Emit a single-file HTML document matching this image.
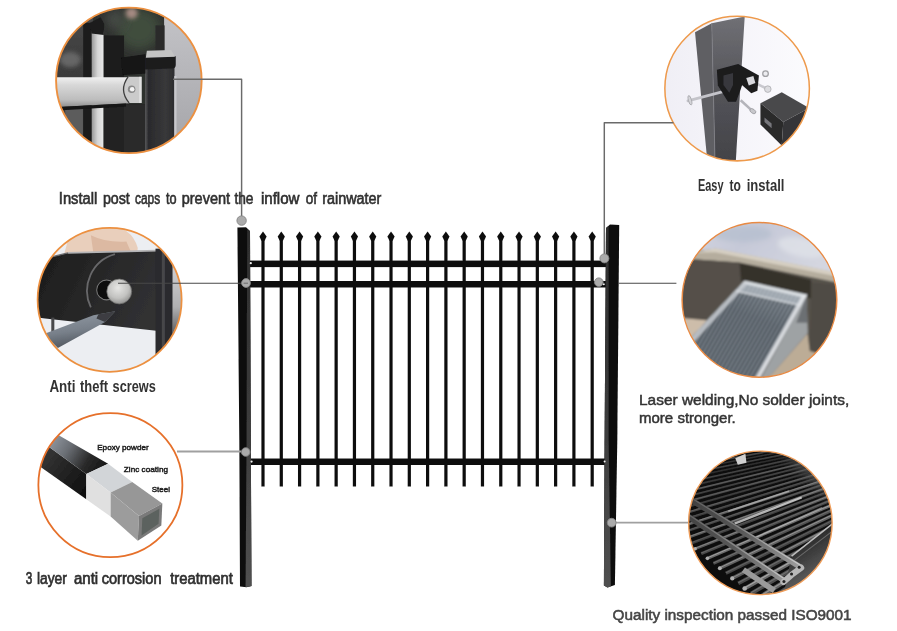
<!DOCTYPE html>
<html><head><meta charset="utf-8"><title>Fence features</title>
<style>
html,body{margin:0;padding:0;background:#fff;}
body{width:897px;height:631px;overflow:hidden;font-family:"Liberation Sans",sans-serif;}
svg{display:block}
text{font-family:"Liberation Sans",sans-serif;}
</style></head><body>
<svg width="897" height="631" viewBox="0 0 897 631">
<defs>
<linearGradient id="gpl" x1="0" y1="0" x2="0" y2="1"><stop offset="0" stop-color="#2e2e2e"/><stop offset="0.55" stop-color="#3c3c3c"/><stop offset="1" stop-color="#505050"/></linearGradient>
<filter id="soft" x="-5%" y="-5%" width="110%" height="110%"><feGaussianBlur stdDeviation="0.45"/></filter>
<filter id="b1" x="-10%" y="-10%" width="120%" height="120%"><feGaussianBlur stdDeviation="1"/></filter>
<filter id="b2" x="-10%" y="-10%" width="120%" height="120%"><feGaussianBlur stdDeviation="2"/></filter>
<filter id="b4" x="-20%" y="-20%" width="140%" height="140%"><feGaussianBlur stdDeviation="4"/></filter>
<filter id="pb" x="-5%" y="-5%" width="110%" height="110%"><feGaussianBlur stdDeviation="3"/></filter>
<filter id="b8" x="-50%" y="-50%" width="200%" height="200%"><feGaussianBlur stdDeviation="8"/></filter>
<filter id="b20" x="-50%" y="-50%" width="200%" height="200%"><feGaussianBlur stdDeviation="22"/></filter>
<filter id="tb" x="-5%" y="-20%" width="110%" height="140%"><feGaussianBlur stdDeviation="0.35"/></filter>
</defs>
<rect width="897" height="631" fill="#ffffff"/>
<defs>
<linearGradient id="g1bar" x1="0" y1="0" x2="0" y2="1"><stop offset="0" stop-color="#f0f0f0"/><stop offset="0.25" stop-color="#d8d8d8"/><stop offset="0.75" stop-color="#bcbcbc"/><stop offset="1" stop-color="#8c8c8c"/></linearGradient>
<linearGradient id="g1v" x1="0" y1="0" x2="1" y2="0"><stop offset="0" stop-color="#9a9a9a"/><stop offset="0.5" stop-color="#d6d6d6"/><stop offset="1" stop-color="#e8e8e8"/></linearGradient>
<linearGradient id="g1post" x1="0" y1="0" x2="1" y2="0"><stop offset="0" stop-color="#5a5a5c"/><stop offset="0.12" stop-color="#2a2a2c"/><stop offset="0.7" stop-color="#38383a"/><stop offset="1" stop-color="#2c2c2e"/></linearGradient>
<linearGradient id="g1l" x1="0" y1="0" x2="0" y2="1"><stop offset="0" stop-color="#4c4c4c"/><stop offset="1" stop-color="#3a3a3a"/></linearGradient>
<linearGradient id="g1r" x1="0" y1="0" x2="0" y2="1"><stop offset="0" stop-color="#c6c6ca"/><stop offset="1" stop-color="#a2a2a6"/></linearGradient>
<clipPath id="c1"><circle cx="311" cy="317" r="287"/></clipPath>
</defs>
<!-- circle 1 -->
<g transform="translate(50,0) scale(0.25355)">
<g clip-path="url(#c1)"><g filter="url(#pb)">
<rect x="0" y="0" width="640" height="640" fill="#2e302e"/>
<rect x="0" y="0" width="170" height="310" fill="url(#g1l)"/>
<rect x="0" y="410" width="170" height="230" fill="#3a3a3a"/>
<rect x="60" y="430" width="70" height="200" fill="#5c5c5c"/>
<ellipse cx="80" cy="235" rx="42" ry="30" fill="#666" filter="url(#b8)"/>
<rect x="131" y="90" width="32" height="540" fill="#1a1a1a"/>
<ellipse cx="350" cy="115" rx="85" ry="80" fill="#414d3c" filter="url(#b20)"/>
<ellipse cx="255" cy="75" rx="35" ry="35" fill="#4a4e4a" filter="url(#b20)"/>
<ellipse cx="322" cy="52" rx="24" ry="22" fill="#a58a82" filter="url(#b8)"/>
<rect x="212" y="140" width="80" height="170" fill="#1b1b1b"/>
<rect x="450" y="0" width="190" height="640" fill="url(#g1r)"/>
<rect x="416" y="100" width="36" height="105" fill="#2a2a2a"/>
<rect x="165" y="110" width="46" height="200" fill="url(#g1v)"/>
<rect x="165" y="415" width="46" height="230" fill="url(#g1v)"/>
<path d="M158 90 L200 68 L214 95 L212 138 L163 132 Z" fill="#1e1e1e"/>
<rect x="212" y="412" width="165" height="230" fill="#202020"/>
<rect x="292" y="412" width="84" height="230" fill="#2c2c2c"/>
<rect x="375" y="228" width="116" height="420" fill="url(#g1post)"/>
<path d="M280 228 L376 214 L376 290 L286 296 Z" fill="#121212"/>
<path d="M375 222 L496 222 L496 256 Q496 270 480 270 L375 274 Z" fill="#1d1d1f"/>
<path d="M382 200 L478 197 L493 224 L378 228 Z" fill="#c4c4c4"/>
<path d="M0 305 H312 V407 L0 424 Z" fill="url(#g1bar)"/>
<path d="M308 303 H361 V406 H312 Q270 355 308 303 Z" fill="#cbcbcb"/>
<path d="M308 303 Q270 355 312 406" fill="none" stroke="#3c3c3c" stroke-width="5"/>
<rect x="352" y="303" width="9" height="103" fill="#e2e2e2"/>
<path d="M0 424 L300 408 L300 420 L0 438 Z" fill="#151515"/>
<circle cx="322" cy="352" r="15" fill="#8a8a8a"/><circle cx="324" cy="352" r="9" fill="#f2f2f2"/>
<rect x="490" y="300" width="9" height="340" fill="#c8c8cc"/>
</g></g>
<circle cx="311" cy="317" r="287" fill="none" stroke="#ec9040" stroke-width="7.5"/>
</g>
<defs>
<linearGradient id="g2r" x1="0" y1="0" x2="0" y2="1"><stop offset="0" stop-color="#e0e0e2"/><stop offset="0.45" stop-color="#b0b0b2"/><stop offset="0.7" stop-color="#4a4a4c"/><stop offset="1" stop-color="#3a3a3c"/></linearGradient>
<clipPath id="c2"><circle cx="314" cy="314.7" r="284"/></clipPath>
<linearGradient id="g2bar" x1="0" y1="0" x2="1" y2="0.3"><stop offset="0" stop-color="#1a1a1a"/><stop offset="0.5" stop-color="#262626"/><stop offset="1" stop-color="#303032"/></linearGradient>
<radialGradient id="g2screw" cx="0.45" cy="0.35" r="0.7"><stop offset="0" stop-color="#e6e6e4"/><stop offset="0.6" stop-color="#c2c2c0"/><stop offset="1" stop-color="#8a8a88"/></radialGradient>
<linearGradient id="g2pen" x1="0" y1="0" x2="0.3" y2="1"><stop offset="0" stop-color="#4a5058"/><stop offset="0.25" stop-color="#8a929c"/><stop offset="0.6" stop-color="#78808a"/><stop offset="1" stop-color="#50565e"/></linearGradient>
</defs>
<!-- circle 2 -->
<g transform="translate(30,220) scale(0.25355)">
<g clip-path="url(#c2)"><g filter="url(#pb)">
<rect x="0" y="0" width="640" height="640" fill="#eceef2"/>
<path d="M130 150 L150 80 Q200 20 300 20 Q400 25 425 110 L420 150 Z" fill="#e9cfbc"/>
<path d="M240 60 Q300 90 380 85 L400 130 L250 130 Z" fill="#dcb9a2"/>
<path d="M0 166 L150 130 L525 120 L525 440 L60 388 L0 380 Z" fill="url(#g2bar)"/>
<path d="M150 130 L500 121" fill="none" stroke="#b4b4b6" stroke-width="7"/>
<path d="M40 156 L150 130" fill="none" stroke="#6a6a6c" stroke-width="5"/>
<rect x="495" y="113" width="68" height="520" fill="#2b2b2d"/>
<rect x="520" y="120" width="12" height="500" fill="#47474a"/>
<rect x="563" y="100" width="60" height="540" fill="url(#g2r)"/>
<rect x="84" y="385" width="12" height="90" fill="#4a4a4c"/>
<path d="M335 135 A 150 150 0 0 0 240 345" fill="none" stroke="#68686a" stroke-width="7"/>
<circle cx="302" cy="276" r="39" fill="#0a0a0a" stroke="#7a7a7a" stroke-width="4"/>
<circle cx="352" cy="282" r="49" fill="url(#g2screw)" stroke="#6a6a68" stroke-width="3"/>
<path d="M336 360 L296 402 L110 505 L55 450 L250 376 Z" fill="url(#g2pen)"/>
<path d="M336 360 L296 402 L262 388 L270 372 Z" fill="#3c3e42"/>
</g></g>
<circle cx="314" cy="314.7" r="284" fill="none" stroke="#ec9040" stroke-width="7"/>
</g>
<defs>
<clipPath id="c3"><circle cx="317" cy="316" r="284"/></clipPath>
<linearGradient id="g3t" gradientUnits="userSpaceOnUse" x1="95" y1="140" x2="280" y2="255"><stop offset="0" stop-color="#8a9098"/><stop offset="0.3" stop-color="#6a6e74"/><stop offset="0.7" stop-color="#2a2a2a"/><stop offset="1" stop-color="#181818"/></linearGradient>
<linearGradient id="g3s" gradientUnits="userSpaceOnUse" x1="40" y1="190" x2="222" y2="330"><stop offset="0" stop-color="#383838"/><stop offset="1" stop-color="#101010"/></linearGradient>
</defs>
<!-- circle 3 -->
<g transform="translate(30,405) scale(0.25355)">
<g clip-path="url(#c3)"><g filter="url(#pb)">
<rect x="0" y="0" width="640" height="640" fill="#ffffff"/>
<path d="M10 118 L222 272 L222 372 L10 222 Z" fill="url(#g3s)"/>
<path d="M10 118 L20 65 L120 123 L308 232 L222 272 Z" fill="url(#g3t)"/>
<path d="M222 272 L308 232 L403 304 L318 345 Z" fill="#d2d5d8"/>
<path d="M222 272 L318 345 L318 440 L222 372 Z" fill="#e0e0e0"/>
<path d="M318 345 L403 304 L522 388 L430 438 Z" fill="#979797"/>
<path d="M318 345 L430 438 L425 535 L318 440 Z" fill="#9c9c9c"/>
<path d="M430 438 L522 388 L518 475 L425 535 Z" fill="#7a7a7a"/>
<path d="M443 447 L510 409 L507 468 L440 515 Z" fill="#5c625e"/>
</g></g>
<circle cx="317" cy="316" r="284" fill="none" stroke="#e6702a" stroke-width="7"/>
</g>
<defs>
<clipPath id="c4"><circle cx="316" cy="314" r="285"/></clipPath>
<linearGradient id="g4bg" x1="0" y1="0" x2="1" y2="0"><stop offset="0" stop-color="#efeef5"/><stop offset="0.5" stop-color="#f6f5fa"/><stop offset="1" stop-color="#fcfcfe"/></linearGradient>
<linearGradient id="g4f" x1="0" y1="0" x2="0" y2="1"><stop offset="0" stop-color="#707075"/><stop offset="0.45" stop-color="#56565b"/><stop offset="1" stop-color="#424247"/></linearGradient>
</defs>
<!-- circle 4 -->
<g transform="translate(657,9) scale(0.25355)">
<g clip-path="url(#c4)"><g filter="url(#pb)">
<rect x="0" y="0" width="640" height="640" fill="url(#g4bg)"/>
<path d="M150 92 L216 56 L229 610 L196 574 Z" fill="#5e5e63"/>
<path d="M216 56 L346 30 L310 612 L229 610 Z" fill="url(#g4f)"/>
<path d="M216 56 L229 610" stroke="#808086" stroke-width="3"/>
<path d="M122 362 L290 318" stroke="#c4c4ca" stroke-width="11" stroke-linecap="round"/>
<ellipse cx="130" cy="360" rx="6" ry="19" fill="#d4d4d8" stroke="#a4a4a8" stroke-width="3" transform="rotate(-15 130 360)"/>
<path d="M330 360 L378 404" stroke="#b4b4ba" stroke-width="10"/>
<ellipse cx="378" cy="403" rx="13" ry="8" fill="#c8c8cc" stroke="#9a9a9e" stroke-width="3" transform="rotate(35 378 403)"/>
<path d="M385 290 L436 316" stroke="#c8c8ce" stroke-width="10"/>
<circle cx="437" cy="316" r="13" fill="#dcdce0" stroke="#a8a8ac" stroke-width="3"/>
<circle cx="428" cy="255" r="11" fill="#ececf0" stroke="#a0a0a4" stroke-width="5"/>
<path d="M236 240 L320 217 L338 236 L336 300 L312 366 L280 366 L240 302 Z" fill="#1b1b1d"/>
<path d="M262 262 L300 252 L300 300 L285 330 L262 300 Z" fill="#38383c"/>
<path d="M320 217 L402 262 L396 322 L372 332 L326 292 Z" fill="#1d1d1f"/>
<path d="M352 272 L380 264 L388 292 L362 302 Z" fill="#d8d8dc"/>
<path d="M408 372 L492 328 L600 390 L498 446 Z" fill="#4a4a4c"/>
<path d="M408 372 L498 446 L492 538 L408 456 Z" fill="#29292b"/>
<path d="M498 446 L600 390 L600 470 L492 538 Z" fill="#363638"/>
<path d="M424 428 L452 452 L452 470 L424 446 Z" fill="#77777b"/>
</g></g>
<circle cx="316" cy="314" r="285" fill="none" stroke="#ee9a4c" stroke-width="6"/>
</g>
<defs>
<clipPath id="c5"><circle cx="313.5" cy="315" r="287"/></clipPath>
<linearGradient id="g5top" x1="0" y1="0" x2="1" y2="0.4"><stop offset="0" stop-color="#d8d9e3"/><stop offset="0.5" stop-color="#c6c9d8"/><stop offset="1" stop-color="#d4d6e0"/></linearGradient>
<linearGradient id="g5rail" x1="0.7" y1="0" x2="0.2" y2="1"><stop offset="0" stop-color="#868e96"/><stop offset="0.3" stop-color="#626a73"/><stop offset="1" stop-color="#687078"/></linearGradient>
<pattern id="p5" width="14" height="14" patternUnits="userSpaceOnUse" patternTransform="rotate(30)"><rect width="14" height="14" fill="none"/><rect x="0" y="0" width="6" height="14" fill="#2e363e" opacity="0.7"/><rect x="9" y="0" width="3" height="14" fill="#c4ccd4" opacity="0.55"/></pattern>
</defs>
<!-- circle 5 -->
<g transform="translate(675,215) scale(0.26940)">
<g clip-path="url(#c5)"><g filter="url(#pb)">
<rect x="0" y="0" width="640" height="640" fill="#57524b"/>
<path d="M0 0 H640 V230 L150 128 L0 135 Z" fill="url(#g5top)"/>
<ellipse cx="470" cy="120" rx="90" ry="35" fill="#e2e5ea" opacity="0.7" filter="url(#b8)" transform="rotate(12 470 120)"/>
<ellipse cx="250" cy="70" rx="110" ry="30" fill="#b4bece" opacity="0.7" filter="url(#b8)"/>
<path d="M0 150 L150 124 L640 222 L640 258 L240 176 L0 160 Z" fill="#b5ad9e"/>
<path d="M60 140 L150 124 L640 222 L640 236 L150 138 Z" fill="#d6cfc2"/>
<path d="M0 160 L240 176 L245 250 L60 440 L0 430 Z" fill="#544f48"/>
<path d="M240 178 L505 240 L505 310 L245 246 Z" fill="#353129"/>
<path d="M505 250 L640 262 L640 560 L500 520 Z" fill="#504b45"/>
<path d="M0 380 L125 392 L20 500 L0 480 Z" fill="#cdbdaa"/>
<path d="M300 640 L365 585 L492 440 L500 505 L640 545 L640 640 Z" fill="#bcac96"/>
<path d="M488 296 L493 438 L365 586 L300 640 Z" fill="#9ea2a4"/>
<path d="M488 300 L492 400 L450 400 Z" fill="#6c7073"/>
<path d="M258 244 L490 296 L290 650 L-40 560 Z" fill="url(#g5rail)"/>
<path d="M258 244 L490 296 L290 650 L-40 560 Z" fill="url(#p5)"/>
<path d="M258 244 L490 296 L468 336 L226 282 Z" fill="#b4bcc4" opacity="0.75"/>
<path d="M258 244 L490 296 L484 308 L250 254 Z" fill="#dfe3e7" opacity="0.9"/>
<path d="M490 296 L290 650 L272 650 L474 296 Z" fill="#e4e7ea" opacity="0.9"/>
<path d="M258 244 L-40 560 L-20 570 L268 256 Z" fill="#cdd1d6" opacity="0.8"/>
<path d="M226 282 L468 336" stroke="#e0e4e8" stroke-width="6" opacity="0.8"/>
</g></g>
<circle cx="313.5" cy="315" r="287" fill="none" stroke="#e88a44" stroke-width="5.6"/>
</g>
<defs>
<linearGradient id="g6r" gradientUnits="userSpaceOnUse" x1="30" y1="216" x2="478" y2="492"><stop offset="0" stop-color="#3e3e3e"/><stop offset="0.5" stop-color="#5a5a5a"/><stop offset="1" stop-color="#a0a0a0"/></linearGradient><linearGradient id="g6h" gradientUnits="userSpaceOnUse" x1="30" y1="216" x2="478" y2="492"><stop offset="0" stop-color="#5a5a5a"/><stop offset="0.5" stop-color="#8a8a8a"/><stop offset="1" stop-color="#d0d0d0"/></linearGradient>
<filter id="b4z" x="-20%" y="-50%" width="140%" height="200%"><feGaussianBlur stdDeviation="3"/></filter>
<linearGradient id="g6f" gradientUnits="userSpaceOnUse" x1="470" y1="380" x2="580" y2="560"><stop offset="0" stop-color="#242424"/><stop offset="1" stop-color="#707070"/></linearGradient>
<clipPath id="c6"><circle cx="317" cy="315" r="283"/></clipPath>
</defs>
<!-- circle 6 -->
<g transform="translate(680,443) scale(0.25355)">
<g clip-path="url(#c6)"><g filter="url(#pb)">
<rect x="0" y="0" width="640" height="640" fill="#0e0e0e"/>
<path d="M400 40 L640 40 L640 260 L540 170 Z" fill="#4c4c4c" filter="url(#b20)"/>
<path d="M-20 73 L700 -46" stroke="#313131" stroke-width="5.8"/>
<path d="M-20 72 L700 -47" stroke="#4b4b4b" stroke-width="1.8"/>
<path d="M-20 86 L700 -38" stroke="#282828" stroke-width="6.0"/>
<path d="M-20 85 L700 -39" stroke="#3a3a3a" stroke-width="1.8"/>
<path d="M-20 101 L700 -30" stroke="#3b3b3b" stroke-width="6.2"/>
<path d="M-20 100 L700 -31" stroke="#5a5a5a" stroke-width="1.9"/>
<path d="M-20 116 L700 -22" stroke="#2c2c2c" stroke-width="6.4"/>
<path d="M-20 115 L700 -22" stroke="#3d3d3d" stroke-width="1.9"/>
<path d="M-20 132 L700 -13" stroke="#373737" stroke-width="6.7"/>
<path d="M-20 131 L700 -14" stroke="#535353" stroke-width="2.0"/>
<path d="M-20 148 L700 -3" stroke="#272727" stroke-width="6.9"/>
<path d="M-20 147 L700 -4" stroke="#383838" stroke-width="2.1"/>
<path d="M-20 166 L700 7" stroke="#363636" stroke-width="7.1"/>
<path d="M-20 165 L700 6" stroke="#545454" stroke-width="2.1"/>
<path d="M-20 184 L700 17" stroke="#2f2f2f" stroke-width="7.4"/>
<path d="M-20 183 L700 16" stroke="#434343" stroke-width="2.2"/>
<path d="M-20 203 L700 28" stroke="#474747" stroke-width="7.7"/>
<path d="M-20 202 L700 27" stroke="#6c6c6c" stroke-width="2.3"/>
<path d="M-20 223 L700 39" stroke="#373737" stroke-width="7.9"/>
<path d="M-20 222 L700 38" stroke="#4d4d4d" stroke-width="2.4"/>
<path d="M-20 244 L700 51" stroke="#464646" stroke-width="8.2"/>
<path d="M-20 243 L700 50" stroke="#6a6a6a" stroke-width="2.5"/>
<path d="M-20 266 L700 63" stroke="#333333" stroke-width="8.5"/>
<path d="M-20 265 L700 62" stroke="#484848" stroke-width="2.6"/>
<path d="M-20 289 L700 76" stroke="#464646" stroke-width="8.8"/>
<path d="M-20 287 L700 75" stroke="#6b6b6b" stroke-width="2.7"/>
<path d="M-20 313 L700 90" stroke="#3c3c3c" stroke-width="9.2"/>
<path d="M-20 311 L700 88" stroke="#565656" stroke-width="2.8"/>
<path d="M-20 338 L700 104" stroke="#5b5b5b" stroke-width="9.5"/>
<path d="M-20 336 L700 102" stroke="#8b8b8b" stroke-width="2.9"/>
<path d="M-9 360 L700 118" stroke="#464646" stroke-width="9.9"/>
<path d="M-9 358 L700 117" stroke="#636363" stroke-width="3.0"/>
<path d="M14 379 L700 133" stroke="#5a5a5a" stroke-width="10.3"/>
<path d="M14 377 L700 132" stroke="#888888" stroke-width="3.1"/>
<circle cx="14" cy="379" r="6.2" fill="#b0b0b0"/>
<path d="M37 398 L700 149" stroke="#414141" stroke-width="10.6"/>
<path d="M37 396 L700 148" stroke="#5c5c5c" stroke-width="3.2"/>
<path d="M60 417 L700 166" stroke="#5a5a5a" stroke-width="11.0"/>
<path d="M60 415 L700 165" stroke="#8a8a8a" stroke-width="3.3"/>
<circle cx="60" cy="417" r="6.6" fill="#b0b0b0"/>
<path d="M84 436 L700 183" stroke="#4a4a4a" stroke-width="11.5"/>
<path d="M84 434 L700 182" stroke="#6a6a6a" stroke-width="3.4"/>
<path d="M108 455 L700 201" stroke="#6c6c6c" stroke-width="11.9"/>
<path d="M108 453 L700 200" stroke="#a4a4a4" stroke-width="3.6"/>
<circle cx="108" cy="455" r="7.1" fill="#b0b0b0"/>
<path d="M132 475 L700 220" stroke="#505050" stroke-width="12.4"/>
<path d="M132 473 L700 218" stroke="#707070" stroke-width="3.7"/>
<path d="M157 494 L700 239" stroke="#626262" stroke-width="12.8"/>
<path d="M157 492 L700 237" stroke="#949494" stroke-width="3.9"/>
<circle cx="157" cy="494" r="7.7" fill="#b0b0b0"/>
<path d="M181 514 L700 259" stroke="#444444" stroke-width="13.3"/>
<path d="M181 512 L700 257" stroke="#606060" stroke-width="4.0"/>
<path d="M206 534 L700 280" stroke="#5a5a5a" stroke-width="13.8"/>
<path d="M206 532 L700 278" stroke="#8a8a8a" stroke-width="4.2"/>
<circle cx="206" cy="534" r="8.3" fill="#b0b0b0"/>
<path d="M230 554 L700 302" stroke="#4a4a4a" stroke-width="14.4"/>
<path d="M230 551 L700 300" stroke="#6a6a6a" stroke-width="4.3"/>
<path d="M255 574 L700 324" stroke="#6c6c6c" stroke-width="14.9"/>
<path d="M255 571 L700 322" stroke="#a4a4a4" stroke-width="4.5"/>
<circle cx="255" cy="574" r="9.0" fill="#b0b0b0"/>
<path d="M280 594 L700 347" stroke="#505050" stroke-width="15.5"/>
<path d="M280 591 L700 346" stroke="#707070" stroke-width="4.7"/>
<path d="M304 614 L700 371" stroke="#626262" stroke-width="16.1"/>
<path d="M304 611 L700 369" stroke="#949494" stroke-width="4.8"/>
<circle cx="304" cy="614" r="9.7" fill="#b0b0b0"/>
<path d="M327 633 L700 395" stroke="#444444" stroke-width="16.7"/>
<path d="M327 630 L700 393" stroke="#606060" stroke-width="5.0"/>
<path d="M350 651 L700 419" stroke="#5a5a5a" stroke-width="17.3"/>
<path d="M350 648 L700 417" stroke="#8a8a8a" stroke-width="5.2"/>
<circle cx="350" cy="651" r="10.4" fill="#b0b0b0"/>
<path d="M400 640 L440 446 L640 288 L640 640 Z" fill="url(#g6f)"/>
<path d="M440 446 L640 288" stroke="#bdbdbd" stroke-width="6"/>
<path d="M452 462 L640 318" stroke="#6a6a6a" stroke-width="4"/>
<path d="M215 318 L480 215" stroke="#e8e8e8" stroke-width="9" opacity="0.75" filter="url(#b4z)"/>
<path d="M190 270 L430 190" stroke="#c8c8c8" stroke-width="7" opacity="0.55" filter="url(#b4z)"/>
<path d="M300 372 L560 255" stroke="#c0c0c0" stroke-width="6" opacity="0.5" filter="url(#b4z)"/>
<path d="M30 216 L478 492" stroke="url(#g6r)" stroke-width="22"/>
<path d="M30 208 L480 485" stroke="url(#g6h)" stroke-width="5"/>
<path d="M15 278 L418 548" stroke="url(#g6r)" stroke-width="22"/>
<path d="M15 270 L420 541" stroke="url(#g6h)" stroke-width="5"/>
<path d="M250 500 L372 582" stroke="#9a9a9a" stroke-width="22"/>
<path d="M478 492 L440 520 L408 548" stroke="#b8b8b8" stroke-width="24" stroke-linecap="round" fill="none"/>
<circle cx="470" cy="490" r="6" fill="#222"/><circle cx="440" cy="517" r="6" fill="#222"/><circle cx="410" cy="546" r="6" fill="#222"/>
<path d="M218 60 L258 42 L262 78 L228 86 Z" fill="#d0d0d0"/>
</g></g>
<circle cx="317" cy="315" r="283" fill="none" stroke="#ee9c58" stroke-width="5.6"/>
</g>

<g filter="url(#soft)"><rect x="261.40" y="238" width="3.2" height="248.5" fill="#0e0e0e"/><path d="M263.00 231.4 L266.60 236.6 L264.60 240.8 L261.40 240.8 L259.40 236.6 Z" fill="#0e0e0e"/><rect x="279.69" y="238" width="3.2" height="248.5" fill="#0e0e0e"/><path d="M281.29 231.4 L284.89 236.6 L282.89 240.8 L279.69 240.8 L277.69 236.6 Z" fill="#0e0e0e"/><rect x="297.98" y="238" width="3.2" height="248.5" fill="#0e0e0e"/><path d="M299.58 231.4 L303.18 236.6 L301.18 240.8 L297.98 240.8 L295.98 236.6 Z" fill="#0e0e0e"/><rect x="316.27" y="238" width="3.2" height="248.5" fill="#0e0e0e"/><path d="M317.87 231.4 L321.47 236.6 L319.47 240.8 L316.27 240.8 L314.27 236.6 Z" fill="#0e0e0e"/><rect x="334.56" y="238" width="3.2" height="248.5" fill="#0e0e0e"/><path d="M336.16 231.4 L339.76 236.6 L337.76 240.8 L334.56 240.8 L332.56 236.6 Z" fill="#0e0e0e"/><rect x="352.84" y="238" width="3.2" height="248.5" fill="#0e0e0e"/><path d="M354.44 231.4 L358.04 236.6 L356.04 240.8 L352.84 240.8 L350.84 236.6 Z" fill="#0e0e0e"/><rect x="371.13" y="238" width="3.2" height="248.5" fill="#0e0e0e"/><path d="M372.73 231.4 L376.33 236.6 L374.33 240.8 L371.13 240.8 L369.13 236.6 Z" fill="#0e0e0e"/><rect x="389.42" y="238" width="3.2" height="248.5" fill="#0e0e0e"/><path d="M391.02 231.4 L394.62 236.6 L392.62 240.8 L389.42 240.8 L387.42 236.6 Z" fill="#0e0e0e"/><rect x="407.71" y="238" width="3.2" height="248.5" fill="#0e0e0e"/><path d="M409.31 231.4 L412.91 236.6 L410.91 240.8 L407.71 240.8 L405.71 236.6 Z" fill="#0e0e0e"/><rect x="426.00" y="238" width="3.2" height="248.5" fill="#0e0e0e"/><path d="M427.60 231.4 L431.20 236.6 L429.20 240.8 L426.00 240.8 L424.00 236.6 Z" fill="#0e0e0e"/><rect x="444.29" y="238" width="3.2" height="248.5" fill="#0e0e0e"/><path d="M445.89 231.4 L449.49 236.6 L447.49 240.8 L444.29 240.8 L442.29 236.6 Z" fill="#0e0e0e"/><rect x="462.58" y="238" width="3.2" height="248.5" fill="#0e0e0e"/><path d="M464.18 231.4 L467.78 236.6 L465.78 240.8 L462.58 240.8 L460.58 236.6 Z" fill="#0e0e0e"/><rect x="480.87" y="238" width="3.2" height="248.5" fill="#0e0e0e"/><path d="M482.47 231.4 L486.07 236.6 L484.07 240.8 L480.87 240.8 L478.87 236.6 Z" fill="#0e0e0e"/><rect x="499.16" y="238" width="3.2" height="248.5" fill="#0e0e0e"/><path d="M500.76 231.4 L504.36 236.6 L502.36 240.8 L499.16 240.8 L497.16 236.6 Z" fill="#0e0e0e"/><rect x="517.44" y="238" width="3.2" height="248.5" fill="#0e0e0e"/><path d="M519.04 231.4 L522.64 236.6 L520.64 240.8 L517.44 240.8 L515.44 236.6 Z" fill="#0e0e0e"/><rect x="535.73" y="238" width="3.2" height="248.5" fill="#0e0e0e"/><path d="M537.33 231.4 L540.93 236.6 L538.93 240.8 L535.73 240.8 L533.73 236.6 Z" fill="#0e0e0e"/><rect x="554.02" y="238" width="3.2" height="248.5" fill="#0e0e0e"/><path d="M555.62 231.4 L559.22 236.6 L557.22 240.8 L554.02 240.8 L552.02 236.6 Z" fill="#0e0e0e"/><rect x="572.31" y="238" width="3.2" height="248.5" fill="#0e0e0e"/><path d="M573.91 231.4 L577.51 236.6 L575.51 240.8 L572.31 240.8 L570.31 236.6 Z" fill="#0e0e0e"/><rect x="590.60" y="238" width="3.2" height="248.5" fill="#0e0e0e"/><path d="M592.20 231.4 L595.80 236.6 L593.80 240.8 L590.60 240.8 L588.60 236.6 Z" fill="#0e0e0e"/><rect x="249" y="260.6" width="357" height="6.5" fill="#0e0e0e"/><rect x="249" y="281" width="357" height="6.5" fill="#0e0e0e"/><rect x="250" y="458.5" width="356" height="6.5" fill="#0e0e0e"/><path d="M237.4 227.6 L246 227.2 L250 231 L250.8 440 L251.5 586 L246.5 587.2 L240 586.4 L239.3 440 Z" fill="#101010"/><path d="M247.2 229 L250 231.2 L250.8 440 L251.5 586 L249 586.8 L245.6 587 L246.6 440 Z" fill="url(#gpl)"/><path d="M606 228 L610 224.4 L619.2 225 L617.3 440 L614.9 585 L607.5 587.4 L603.9 585.4 L604.6 440 Z" fill="#111111"/><path d="M606 228 L608.6 226 L608.6 440 L610.8 586.6 L607.5 587.4 L603.9 585.4 L604.6 440 Z" fill="url(#gpl)"/><circle cx="250.8" cy="263.2" r="1.1" fill="#f4f4f4"/><circle cx="251.6" cy="461.6" r="1.1" fill="#f4f4f4"/><circle cx="603.8" cy="284.2" r="1.0" fill="#f4f4f4"/><circle cx="604.6" cy="461.6" r="1.0" fill="#f4f4f4"/></g>
<g fill="none" stroke="#6a6a6a" stroke-width="1.45" stroke-linejoin="round">
<path d="M173 79.2 H241.6 V216"/>
<path d="M118 283.2 H246" stroke="#484848" stroke-width="1.15"/>
<path d="M177 451.5 H241" stroke="#a0a0a0" stroke-width="1.8"/>
<path d="M673.5 122.8 H604.3 V254"/>
<path d="M618.6 283.25 H676.4" stroke="#484848" stroke-width="1.15"/>
<path d="M616 522.7 H688" stroke="#a0a0a0" stroke-width="1.8"/>
</g>
<circle cx="241.6" cy="220.6" r="4.7" fill="#ababab" stroke="#858585" stroke-width="0.9"/>
<circle cx="246" cy="283" r="4.4" fill="#ababab" stroke="#858585" stroke-width="0.9"/>
<circle cx="245.7" cy="452" r="4.3" fill="#ababab" stroke="#858585" stroke-width="0.9"/>
<circle cx="604.4" cy="258.4" r="4.5" fill="#ababab" stroke="#858585" stroke-width="0.9"/>
<circle cx="598.8" cy="282.2" r="4.3" fill="#ababab" stroke="#858585" stroke-width="0.9"/>
<circle cx="611.7" cy="522.7" r="4.4" fill="#ababab" stroke="#858585" stroke-width="0.9"/>
<path d="M243.6 283.2 H248" stroke="#6a6a6a" stroke-width="1"/>
<g filter="url(#tb)">
<text x="58.8" y="204.2" font-size="15.8" textLength="38.6" lengthAdjust="spacingAndGlyphs" font-weight="normal" fill="#303030" stroke="#303030" stroke-width="0.6">Install</text>
<text x="102.9" y="204.2" font-size="15.8" textLength="26.9" lengthAdjust="spacingAndGlyphs" font-weight="normal" fill="#303030" stroke="#303030" stroke-width="0.6">post</text>
<text x="134.9" y="204.2" font-size="15.8" textLength="25.3" lengthAdjust="spacingAndGlyphs" font-weight="normal" fill="#303030" stroke="#303030" stroke-width="0.6">caps</text>
<text x="166.0" y="204.2" font-size="15.8" textLength="10.6" lengthAdjust="spacingAndGlyphs" font-weight="normal" fill="#303030" stroke="#303030" stroke-width="0.6">to</text>
<text x="181.7" y="204.2" font-size="15.8" textLength="48.4" lengthAdjust="spacingAndGlyphs" font-weight="normal" fill="#303030" stroke="#303030" stroke-width="0.6">prevent</text>
<text x="234.4" y="204.2" font-size="15.8" textLength="19.1" lengthAdjust="spacingAndGlyphs" font-weight="normal" fill="#303030" stroke="#303030" stroke-width="0.6">the</text>
<text x="260.9" y="204.2" font-size="15.8" textLength="38.6" lengthAdjust="spacingAndGlyphs" font-weight="normal" fill="#303030" stroke="#303030" stroke-width="0.6">inflow</text>
<text x="305.8" y="204.2" font-size="15.8" textLength="11.3" lengthAdjust="spacingAndGlyphs" font-weight="normal" fill="#303030" stroke="#303030" stroke-width="0.6">of</text>
<text x="322.2" y="204.2" font-size="15.8" textLength="59.2" lengthAdjust="spacingAndGlyphs" font-weight="normal" fill="#303030" stroke="#303030" stroke-width="0.6">rainwater</text>
<text x="49.4" y="392" font-size="15.6" textLength="26.1" lengthAdjust="spacingAndGlyphs" font-weight="bold" fill="#333" stroke="#333" stroke-width="0.0">Anti</text>
<text x="80.0" y="392" font-size="15.6" textLength="28.1" lengthAdjust="spacingAndGlyphs" font-weight="bold" fill="#333" stroke="#333" stroke-width="0.0">theft</text>
<text x="112.6" y="392" font-size="15.6" textLength="43.2" lengthAdjust="spacingAndGlyphs" font-weight="bold" fill="#333" stroke="#333" stroke-width="0.0">screws</text>
<text x="25.8" y="583.5" font-size="15.8" textLength="6.5" lengthAdjust="spacingAndGlyphs" font-weight="normal" fill="#303030" stroke="#303030" stroke-width="0.7">3</text>
<text x="36.9" y="583.5" font-size="15.8" textLength="30.0" lengthAdjust="spacingAndGlyphs" font-weight="normal" fill="#303030" stroke="#303030" stroke-width="0.7">layer</text>
<text x="74.0" y="583.5" font-size="15.8" textLength="24.2" lengthAdjust="spacingAndGlyphs" font-weight="normal" fill="#303030" stroke="#303030" stroke-width="0.7">anti</text>
<text x="101.7" y="583.5" font-size="15.8" textLength="59.8" lengthAdjust="spacingAndGlyphs" font-weight="normal" fill="#303030" stroke="#303030" stroke-width="0.7">corrosion</text>
<text x="170.2" y="583.5" font-size="15.8" textLength="62.6" lengthAdjust="spacingAndGlyphs" font-weight="normal" fill="#303030" stroke="#303030" stroke-width="0.7">treatment</text>
<text x="698.0" y="191" font-size="15.6" textLength="25.5" lengthAdjust="spacingAndGlyphs" font-weight="bold" fill="#333" stroke="#333" stroke-width="0.0">Easy</text>
<text x="729.4" y="191" font-size="15.6" textLength="11.4" lengthAdjust="spacingAndGlyphs" font-weight="bold" fill="#333" stroke="#333" stroke-width="0.0">to</text>
<text x="746.7" y="191" font-size="15.6" textLength="37.7" lengthAdjust="spacingAndGlyphs" font-weight="bold" fill="#333" stroke="#333" stroke-width="0.0">install</text>
<text x="639.0" y="405" font-size="15.4" textLength="210.2" lengthAdjust="spacingAndGlyphs" font-weight="normal" fill="#343434" stroke="#343434" stroke-width="0.5">Laser welding,No solder joints,</text>
<text x="639.0" y="423" font-size="15.4" textLength="96.8" lengthAdjust="spacingAndGlyphs" font-weight="normal" fill="#343434" stroke="#343434" stroke-width="0.5">more stronger.</text>
<text x="612.6" y="620.4" font-size="15.4" textLength="239.0" lengthAdjust="spacingAndGlyphs" font-weight="normal" fill="#454545" stroke="#454545" stroke-width="0.55">Quality inspection passed ISO9001</text>
</g>
<g filter="url(#tb)">
<text x="97.2" y="449.9" font-size="8.1" textLength="51.5" lengthAdjust="spacingAndGlyphs" font-weight="normal" fill="#1c1c1c" stroke="#1c1c1c" stroke-width="0.45">Epoxy powder</text>
<text x="123.8" y="472.3" font-size="8.1" textLength="44.2" lengthAdjust="spacingAndGlyphs" font-weight="normal" fill="#1c1c1c" stroke="#1c1c1c" stroke-width="0.45">Zinc coating</text>
<text x="151.7" y="491.9" font-size="8.1" textLength="18.3" lengthAdjust="spacingAndGlyphs" font-weight="normal" fill="#1c1c1c" stroke="#1c1c1c" stroke-width="0.45">Steel</text>
</g>
</svg>
</body></html>
